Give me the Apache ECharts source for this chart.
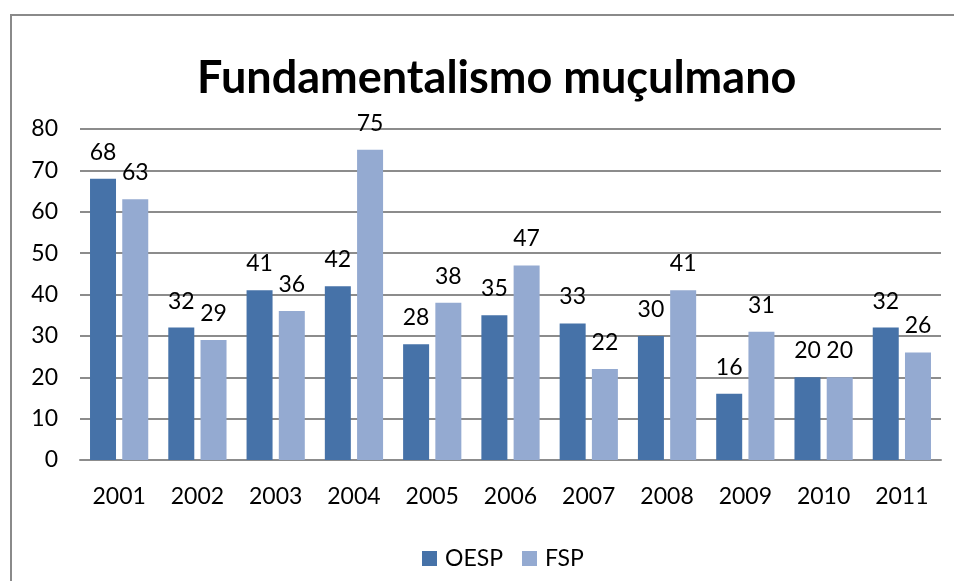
<!DOCTYPE html>
<html>
<head>
<meta charset="utf-8">
<script src="https://cdn.jsdelivr.net/npm/echarts@6/dist/echarts.min.js"></script>
<style>
html,body{margin:0;padding:0;background:#fff;}
#chart{width:954px;height:581px;}
</style>
</head>
<body>
<div id="chart"></div>
<script>
var categories = ['2001','2002','2003','2004','2005','2006','2007','2008','2009','2010','2011'];
var oesp = [68, 32, 41, 42, 28, 35, 33, 30, 16, 20, 32];
var fsp = [63, 29, 36, 75, 38, 47, 22, 41, 31, 20, 26];
var seriesNames = ['OESP', 'FSP'];
var titleText = 'Fundamentalismo muçulmano';

var FONT = 'Lato';
var FS = 23;
var chart = echarts.init(document.getElementById('chart'), null, {renderer: 'canvas'});
var labelStyle = {show: true, position: 'top', distance: 15, color: '#000', fontFamily: FONT, fontSize: FS, lineHeight: FS};
chart.setOption({
  animation: false,
  backgroundColor: '#fff',
  graphic: [{
    type: 'rect', shape: {x: 11, y: 15, width: 960, height: 600},
    style: {fill: 'none', stroke: '#8a8a8a', lineWidth: 2}, silent: true, z: -1
  }],
  title: {
    text: titleText, left: 192, top: 51,
    textStyle: {fontFamily: FONT, fontWeight: 'bold', fontSize: 45, color: '#000'}
  },
  legend: {
    data: seriesNames, top: 542, left: 417,
    icon: 'rect', itemWidth: 15, itemHeight: 15, itemGap: 19,
    textStyle: {fontFamily: FONT, fontSize: FS, lineHeight: FS, color: '#000', padding: [0, 0, 0, 3]}
  },
  grid: {left: 80, right: 13, top: 129, bottom: 121, containLabel: false},
  xAxis: {
    type: 'category', data: categories,
    axisLine: {show: true, lineStyle: {color: '#8c8c8c', width: 2}},
    axisTick: {show: false},
    axisLabel: {fontFamily: FONT, fontSize: FS, lineHeight: FS, color: '#000', margin: 25}
  },
  yAxis: {
    type: 'value', min: 0, max: 80, interval: 10,
    axisLine: {show: false}, axisTick: {show: false},
    splitLine: {lineStyle: {color: '#8c8c8c', width: 2}},
    axisLabel: {fontFamily: FONT, fontSize: FS, color: '#000', margin: 22}
  },
  series: [
    {name: seriesNames[0], type: 'bar', data: oesp, barWidth: 26, barGap: '24%',
     itemStyle: {color: '#4672A8'}, label: labelStyle},
    {name: seriesNames[1], type: 'bar', data: fsp, barWidth: 26, barGap: '24%',
     itemStyle: {color: '#94AAD1'}, label: labelStyle}
  ]
});
</script>
</body>
</html>
